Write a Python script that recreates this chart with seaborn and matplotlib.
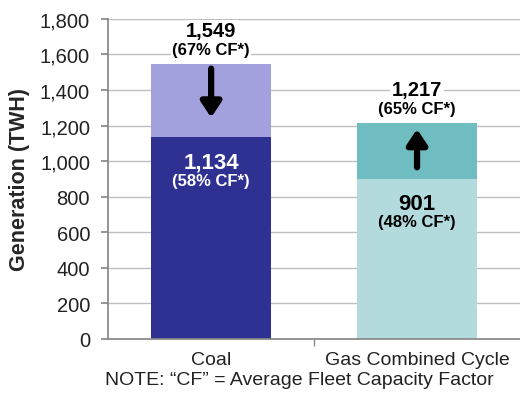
import matplotlib
matplotlib.use("Agg")
import matplotlib.pyplot as plt
import seaborn as sns
import pandas as pd
from matplotlib.ticker import FuncFormatter

# data
categories = ["Coal", "Gas Combined Cycle"]
base_values = [1134, 901]
top_values = [1549, 1217]
base_cf = ["58%", "48%"]
top_cf = ["67%", "65%"]
base_colors = ["#2E3192", "#B3DADD"]
top_colors = ["#A3A0DE", "#70BDC1"]
base_text_colors = ["white", "black"]

sns.set_theme(style="white")
plt.rcParams["font.family"] = ["Liberation Sans", "DejaVu Sans"]

df_top = pd.DataFrame({"cat": categories, "val": top_values})
df_base = pd.DataFrame({"cat": categories, "val": base_values})

fig = plt.figure(figsize=(5.2, 4.06), dpi=100)
ax = fig.add_axes([0.208, 0.163, 0.792, 0.788])

ax.yaxis.grid(True, color="#BFBFBF", linewidth=1)
ax.set_axisbelow(True)

sns.barplot(data=df_top, x="cat", y="val", hue="cat", palette=top_colors,
            width=0.58, legend=False, ax=ax, saturation=1, linewidth=0)
sns.barplot(data=df_base, x="cat", y="val", hue="cat", palette=base_colors,
            width=0.58, legend=False, ax=ax, saturation=1, linewidth=0)

ax.set_ylim(0, 1800)
ax.set_xlim(-0.5, 1.5)
ax.set_yticks(range(0, 1801, 200))
ax.yaxis.set_major_formatter(FuncFormatter(lambda v, p: f"{int(v):,}"))
ax.tick_params(axis="y", labelsize=14.5, length=5, direction="out", color="#888888",
               pad=8, left=True, labelcolor="#222222")
ax.tick_params(axis="x", labelsize=14, length=0, pad=9, labelcolor="#222222")
ax.set_xticks([0.5], minor=True)
ax.tick_params(axis="x", which="minor", length=5, direction="out", color="#888888", bottom=True)

for s in ["top", "right"]:
    ax.spines[s].set_visible(False)
for s in ["left", "bottom"]:
    ax.spines[s].set_color("#888888")

ax.set_xlabel("")
ax.set_ylabel("Generation (TWH)", fontsize=15.5, fontweight="bold")
ax.yaxis.set_label_coords(-0.19, 0.5)

# labels
for i in range(len(categories)):
    top = top_values[i]
    base = base_values[i]
    ax.text(i, top + 185, f"{top:,}", ha="center", va="center", fontsize=14.5,
            fontweight="bold", color="black",
            bbox=dict(facecolor="white", edgecolor="none", pad=1))
    ax.text(i, top + 80, f"({top_cf[i]} CF*)", ha="center", va="center", fontsize=12,
            fontweight="bold", color="black",
            bbox=dict(facecolor="white", edgecolor="none", pad=1))
    ax.text(i, base - 140, f"{base:,}", ha="center", va="center", fontsize=16,
            fontweight="bold", color=base_text_colors[i])
    ax.text(i, base - 242, f"({base_cf[i]} CF*)", ha="center", va="center", fontsize=12,
            fontweight="bold", color=base_text_colors[i])

# arrows
arrow_props = dict(arrowstyle="-|>,head_width=0.5,head_length=0.75", lw=4.5, color="black",
                   shrinkA=0, shrinkB=0)
ax.annotate("", xy=(0, 1245), xytext=(0, 1520), arrowprops=arrow_props)
ax.annotate("", xy=(1, 1180), xytext=(1, 965), arrowprops=arrow_props)

fig.text(0.575, 0.063, "NOTE: \u201cCF\u201d = Average Fleet Capacity Factor",
         ha="center", va="center", fontsize=14, color="#222222")

fig.savefig("out.png", dpi=100)
